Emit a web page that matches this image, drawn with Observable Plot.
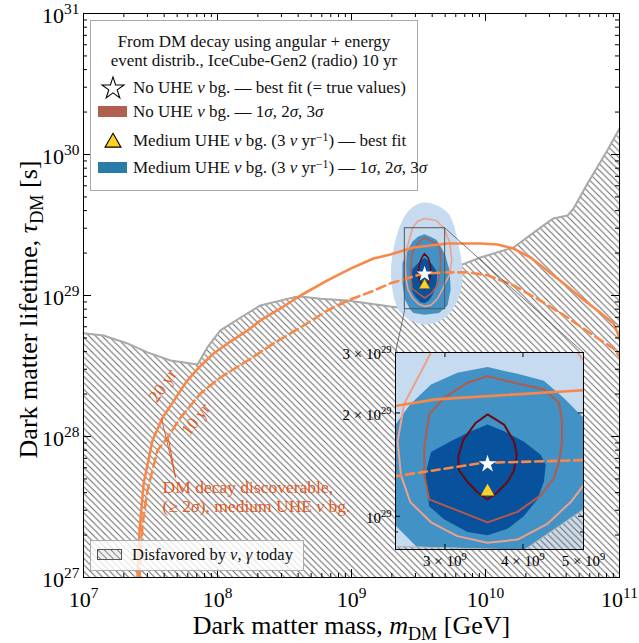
<!DOCTYPE html>
<html><head><meta charset="utf-8">
<script src="https://cdn.jsdelivr.net/npm/d3@7"></script>
<script src="https://cdn.jsdelivr.net/npm/@observablehq/plot@0.6"></script>
<style>
body{margin:0;background:#fff;}
#wrap{position:relative;width:639px;height:643px;overflow:hidden;font-family:'Liberation Serif',serif;color:#111;}
.leg{position:absolute;box-sizing:border-box;border:1px solid #ababab;font-family:'Liberation Serif',serif;}
.leg i{font-style:italic;}
.leg sup{font-size:70%;vertical-align:0.45em;line-height:0;}
.row{position:absolute;white-space:nowrap;height:22px;line-height:22px;}
</style></head>
<body><div id="wrap"></div>
<script>
// ---------------- data ----------------
// Disfavored-by-nu/gamma boundary
const boundMass = [1.0e7,1.41e7,2.13e7,3.0e7,4.46e7,7.1e7,8.4e7,1.05e8,1.49e8,2.09e8,3.69e8,4.16e8,5.87e8,9.3e8,1.95e9,2.32e9,4.02e9,5.02e9,6.18e9,9.18e9,1.62e10,2.57e10,3.21e10,4.09e10,4.54e10,5.77e10,8.13e10,1.0e11];
const boundLife = [5.4e28,5.2e28,4.57e28,3.95e28,3.46e28,3.24e28,4.28e28,5.65e28,6.98e28,8.5e28,9.7e28,9.85e28,9.5e28,9.2e28,8.35e28,8.2e28,7.96e28,1.05e29,1.61e29,1.86e29,2.19e29,3.03e29,3.52e29,3.69e29,4.14e29,6.22e29,1.07e30,1.53e30];
// Discovery reach, 20 yr (solid) and 10 yr (dashed)
const mass20 = [2.53e7,2.62e7,2.81e7,3.27e7,3.89e7,5.87e7,7.3e7,9.34e7,1.19e8,1.68e8,2.09e8,2.95e8,4.16e8,6.62e8,9.84e8,1.46e9,1.95e9,2.9e9,5.2e9,9.18e9,1.23e10,1.62e10,2.17e10,2.9e10,3.82e10,5.12e10,6.85e10,9.02e10,1.0e11];
const life20 = [1.0e27,2.15e27,4.64e27,9.37e27,1.36e28,2.45e28,3.1e28,3.88e28,4.57e28,5.65e28,6.65e28,8.09e28,1.0e29,1.28e29,1.55e29,1.83e29,1.95e29,2.19e29,2.34e29,2.34e29,2.3e29,2.15e29,1.86e29,1.5e29,1.22e29,9.7e28,7.83e28,6.33e28,5.04e28];
const mass10 = [2.62e7,2.76e7,3.0e7,3.56e7,4.24e7,5.3e7,7.47e7,1.05e8,1.68e8,2.62e8,4.16e8,6.62e8,9.33e8,1.46e9,1.95e9,3.44e9,5.2e9,7.35e9,1.04e10,1.62e10,2.57e10,4.09e10,6.4e10,9.02e10,1.0e11];
const life10 = [1.0e27,2.42e27,4.14e27,7.96e27,9.84e27,1.36e28,2.02e28,2.62e28,3.46e28,4.57e28,5.93e28,7.83e28,9.2e28,1.08e29,1.22e29,1.43e29,1.46e29,1.46e29,1.39e29,1.18e29,9.2e28,6.98e28,5.2e28,4.21e28,3.7e28];
// Medium UHE bg. contours (filled): 3 sigma, 2 sigma, 1 sigma
const mass3u = [3.44e9,5.2e9,6.3e9,6.74e9,6.08e9,4.86e9,3.44e9,2.32e9,1.99e9,2.06e9,2.57e9];
const life3u = [4.57e29,3.88e29,2.26e29,1.34e29,8.9e28,6.87e28,6.22e28,7.57e28,1.22e29,2.15e29,3.82e29];
const mass2u = [3.51e9,3.92e9,4.32e9,4.65e9,5.01e9,5.4e9,5.5e9,5.2e9,4.5e9,3.5e9,2.9e9,2.73e9,2.5e9,2.4e9,2.4e9,2.5e9,2.64e9,2.85e9,3.14e9];
const life2u = [2.72e29,2.60e29,2.48e29,2.21e29,1.93e29,1.5e29,1.1e29,8.5e28,7.5e28,7.3e28,7.5e28,8.0e28,9.4e28,1.2e29,1.7e29,1.85e29,2.12e29,2.42e29,2.62e29];
const mass1u = [3.51e9,3.73e9,4.01e9,4.27e9,4.35e9,4.32e9,4.22e9,4.01e9,3.78e9,3.51e9,3.26e9,2.99e9,2.83e9,2.79e9,2.85e9,3.06e9,3.30e9];
const life1u = [1.85e29,1.77e29,1.65e29,1.51e29,1.41e29,1.26e29,1.12e29,1.00e29,9.2e28,8.8e28,9.0e28,9.8e28,1.07e29,1.32e29,1.54e29,1.65e29,1.77e29];
// No UHE bg. contours (lines): 3 sigma, 2 sigma, 1 sigma
const mass3n = [3.5e9,4.3e9,4.89e9,5.0e9,5.4e9,5.6e9,5.4e9,5.0e9,4.77e9,4.37e9,3.92e9,3.51e9,3.14e9,2.85e9,2.64e9,2.55e9,2.52e9,2.58e9,2.85e9,3.1e9];
const life3n = [3.52e29,3.4e29,3.0e29,2.84e29,2.4e29,1.8e29,1.4e29,1.23e29,1.10e29,9.48e28,8.55e28,8.37e28,8.75e28,9.6e28,1.10e29,1.32e29,1.65e29,2.12e29,3.0e29,3.35e29];
const mass2n = [3.51e9,3.87e9,4.32e9,4.57e9,4.62e9,4.62e9,4.57e9,4.48e9,4.27e9,3.92e9,3.51e9,3.14e9,2.83e9,2.78e9,2.78e9,2.83e9,2.99e9,3.26e9];
const life2n = [2.56e29,2.45e29,2.34e29,2.14e29,1.89e29,1.65e29,1.44e29,1.29e29,1.15e29,1.03e29,9.6e28,1.04e29,1.12e29,1.32e29,1.58e29,1.98e29,2.21e29,2.45e29];
const mass1n = [3.51e9,3.73e9,3.87e9,3.91e9,3.87e9,3.78e9,3.64e9,3.51e9,3.38e9,3.26e9,3.16e9,3.15e9,3.21e9,3.36e9];
const life1n = [1.98e29,1.85e29,1.65e29,1.51e29,1.36e29,1.26e29,1.175e29,1.12e29,1.175e29,1.26e29,1.36e29,1.49e29,1.67e29,1.87e29];
// best fits
const bestNoMass = [3.51e9], bestNoLife = [1.42e29];
const bestMedMass = [3.51e9], bestMedLife = [1.18e29];
// zoomed window
const insetMass = [2.5e9, 5e9];
const insetLife = [8e28, 3e29];
// annotations
const annoText = ["20 yr", "10 yr"];
const annoMass = [3.9e7, 6.9e7];
const annoLife = [2.3e28, 1.32e28];
const annoAngle = [-55, -52];
const discoverText = "DM decay discoverable,\n(≥ 2*σ*), medium UHE *ν* bg.";
const discoverMass = 3.89e7, discoverLife = 3.75e27;
const pointerFromMass = 4.86e7, pointerFromLife = 5.12e27;
const pointerToMass = [3.82e7, 4.3e7];
const pointerToLife = [1.34e28, 9.68e27];
// ticks
const xMajor = [1e7,1e8,1e9,1e10,1e11];
const yMajor = [1e27,1e28,1e29,1e30,1e31];
const insetXTicks = [3e9,4e9,5e9];
const insetXLabels = ["3 × 10^{9}","4 × 10^{9}","5 × 10^{9}"];
const insetYTicks = [1e29,2e29,3e29];
const insetYLabels = ["10^{29}","2 × 10^{29}","3 × 10^{29}"];
const insetYMinor = [9e28];
// legend
const legendTitle = ["From DM decay using angular + energy","event distrib., IceCube-Gen2 (radio) 10 yr"];
const legendLabels = [
  "No UHE <i>ν</i> bg. — best fit (= true values)",
  "No UHE <i>ν</i> bg. — 1<i>σ</i>, 2<i>σ</i>, 3<i>σ</i>",
  "Medium UHE <i>ν</i> bg. (3 <i>ν</i> yr<sup>−1</sup>) — best fit",
  "Medium UHE <i>ν</i> bg. (3 <i>ν</i> yr<sup>−1</sup>) — 1<i>σ</i>, 2<i>σ</i>, 3<i>σ</i>"
];
const legendHatchLabel = "Disfavored by <i>ν</i>, <i>γ</i> today";
const xTitle = "Dark matter mass, *m*_{DM} [GeV]";
const yTitle = "Dark matter lifetime, *τ*_{DM} [s]";

// ---------------- styles / layout ----------------
const SERIF = "'Liberation Serif', serif";
const ORANGE = "#f98848", ANNO = "#e5581c";
const W = 639, H = 643, ML = 83, MR = 20, MT = 13, MB = 66;
const PW = W - ML - MR, PH = H - MT - MB;
const xDomain = [1e7, 1e11], yDomain = [1e27, 1e31];
const IL = 395, IT = 352, IW = 188, IH = 197;       // inset frame in page pixels
const iML = 66, iMR = 8, iMT = 4, iMB = 26;

const NS = "http://www.w3.org/2000/svg";
const pts = (xs, ys) => xs.map((x, i) => ({x, y: ys[i]}));
const boundary = pts(boundMass, boundLife);
const line20 = pts(mass20, life20), line10 = pts(mass10, life10);
const c3u = pts(mass3u, life3u), c2u = pts(mass2u, life2u), c1u = pts(mass1u, life1u);
const c3n = pts(mass3n, life3n), c2n = pts(mass2n, life2n), c1n = pts(mass1n, life1n);
const bestNo = pts(bestNoMass, bestNoLife), bestMed = pts(bestMedMass, bestMedLife);
const minorOf = (lo, hi) => { const a = []; for (let d = lo; d < hi; d++) for (let k = 2; k <= 9; k++) a.push(k * 10 ** d); return a; };
const xMinor = minorOf(7, 11), yMinor = minorOf(27, 31);
const exp10 = d => `10^{${Math.round(Math.log10(d))}}`;
// page pixel -> main data (for the inset connector lines)
const pxToMass = px => 10 ** (Math.log10(xDomain[0]) + (px - ML) / PW * Math.log10(xDomain[1] / xDomain[0]));
const pyToLife = py => 10 ** (Math.log10(yDomain[1]) - (py - MT) / PH * Math.log10(yDomain[1] / yDomain[0]));
const box = [{x1: insetMass[0], x2: insetMass[1], y1: insetLife[0], y2: insetLife[1]}];
const connectors = [
  {x1: insetMass[0], y1: insetLife[0], x2: pxToMass(IL), y2: pyToLife(IT)},
  {x1: insetMass[1], y1: insetLife[1], x2: pxToMass(IL + IW), y2: pyToLife(IT)}
];
const pointers = pointerToMass.map((m, i) => ({x1: pointerFromMass, y1: pointerFromLife, x2: m, y2: pointerToLife[i]}));
const annos = annoText.map((t, i) => ({t, x: annoMass[i], y: annoLife[i], a: annoAngle[i]}));

function contourMarks(clip, sw) {
  return [
    Plot.line(c3u, {x: "x", y: "y", curve: "catmull-rom-closed", fill: "#c6dbef", stroke: "none", clip}),
    Plot.line(c2u, {x: "x", y: "y", curve: "linear-closed", fill: "#4292c6", stroke: "none", clip}),
    Plot.line(c1u, {x: "x", y: "y", curve: "linear-closed", fill: "#08519c", stroke: "none", clip}),
    Plot.line(c3n, {x: "x", y: "y", curve: "linear-closed", stroke: "#eea18a", strokeWidth: sw, clip}),
    Plot.line(c2n, {x: "x", y: "y", curve: "linear-closed", stroke: "#b45a49", strokeWidth: sw, clip}),
    Plot.line(c1n, {x: "x", y: "y", curve: "linear-closed", stroke: "#6a0b12", strokeWidth: sw, clip})
  ];
}

const main = Plot.plot({
  width: W, height: H, marginLeft: ML, marginRight: MR, marginTop: MT, marginBottom: MB,
  x: {type: "log", domain: xDomain, axis: null},
  y: {type: "log", domain: yDomain, axis: null},
  style: {fontFamily: SERIF, background: "white", color: "black"},
  marks: [
    Plot.areaY(boundary, {x: "x", y1: () => yDomain[0], y2: "y", fill: "url(#hatch)"}),
    Plot.line(boundary, {x: "x", y: "y", stroke: "#a9a9a9", strokeWidth: 2}),
    ...contourMarks(false, 1.6),
    Plot.line(line20, {x: "x", y: "y", stroke: ORANGE, strokeWidth: 2.6, clip: true}),
    Plot.line(line10, {x: "x", y: "y", stroke: ORANGE, strokeWidth: 2.6, strokeDasharray: "9,5", clip: true}),
    Plot.dot(bestNo, {x: "x", y: "y", symbol: "star", fill: "white", r: 5}),
    Plot.dot(bestMed, {x: "x", y: "y", symbol: "triangle", fill: "#ffd21f", stroke: "#444", strokeWidth: 0.5, r: 4.2}),
    Plot.rect(box, {x1: "x1", x2: "x2", y1: "y1", y2: "y2", fill: "none", stroke: "#555", strokeWidth: 1}),
    Plot.link(connectors, {x1: "x1", y1: "y1", x2: "x2", y2: "y2", stroke: "#555", strokeWidth: 0.8}),
    Plot.text(annos, {x: "x", y: "y", text: "t", rotate: "a", fill: ANNO, fontSize: 17}),
    Plot.link(pointers, {x1: "x1", y1: "y1", x2: "x2", y2: "y2", stroke: ANNO, strokeWidth: 1}),
    Plot.text([discoverText], {x: () => discoverMass, y: () => discoverLife, textAnchor: "start", lineAnchor: "middle", fill: ANNO, fontSize: 17.5, lineHeight: 1.05}),
    // inward ticks on all four sides
    Plot.tickX(xMajor, {x: d => d, insetTop: PH - 8}),
    Plot.tickX(xMajor, {x: d => d, insetBottom: PH - 8}),
    Plot.tickX(xMinor, {x: d => d, insetTop: PH - 4}),
    Plot.tickX(xMinor, {x: d => d, insetBottom: PH - 4}),
    Plot.tickY(yMajor, {y: d => d, insetRight: PW - 8}),
    Plot.tickY(yMajor, {y: d => d, insetLeft: PW - 8}),
    Plot.tickY(yMinor, {y: d => d, insetRight: PW - 4}),
    Plot.tickY(yMinor, {y: d => d, insetLeft: PW - 4}),
    Plot.text(xMajor, {x: d => d, text: exp10, frameAnchor: "bottom", textAnchor: "middle", lineAnchor: "middle", dy: 22, fontSize: 22}),
    Plot.text(yMajor, {y: d => d, text: exp10, frameAnchor: "left", textAnchor: "end", lineAnchor: "middle", dx: -4, dy: 2, fontSize: 22}),
    Plot.text([xTitle], {frameAnchor: "bottom", textAnchor: "middle", lineAnchor: "middle", dy: 48, fontSize: 26}),
    Plot.text([yTitle], {frameAnchor: "left", textAnchor: "middle", lineAnchor: "middle", rotate: -90, dx: -55, dy: 14, fontSize: 26}),
    Plot.frame({stroke: "black", strokeWidth: 1})
  ]
});

const iPW = IW, iPH = IH;
const inset = Plot.plot({
  width: IW + iML + iMR, height: IH + iMT + iMB,
  marginLeft: iML, marginRight: iMR, marginTop: iMT, marginBottom: iMB,
  x: {type: "log", domain: insetMass, axis: null},
  y: {type: "log", domain: insetLife, axis: null},
  style: {fontFamily: SERIF, background: "transparent", color: "black", overflow: "visible"},
  marks: [
    Plot.frame({fill: "white", stroke: "none"}),
    ...contourMarks(true, 2),
    Plot.areaY(boundary, {x: "x", y1: () => yDomain[0], y2: "y", fill: "#cddcea", clip: true}),
    Plot.areaY(boundary, {x: "x", y1: () => yDomain[0], y2: "y", fill: "url(#hatch)", clip: true}),
    Plot.line(boundary, {x: "x", y: "y", stroke: "#b5b5b5", strokeWidth: 1, clip: true}),
    Plot.line(line20, {x: "x", y: "y", stroke: ORANGE, strokeWidth: 2.6, clip: true}),
    Plot.line(line10, {x: "x", y: "y", stroke: ORANGE, strokeWidth: 2.6, strokeDasharray: "8,5", clip: true}),
    Plot.dot(bestNo, {x: "x", y: "y", symbol: "star", fill: "white", r: 5.5}),
    Plot.dot(bestMed, {x: "x", y: "y", symbol: "triangle", fill: "#ffd21f", stroke: "none", r: 5}),
    Plot.tickX(insetXTicks, {x: d => d, insetTop: iPH - 5}),
    Plot.tickX(insetXTicks, {x: d => d, insetBottom: iPH - 5}),
    Plot.tickY(insetYTicks, {y: d => d, insetRight: iPW - 5}),
    Plot.tickY(insetYTicks, {y: d => d, insetLeft: iPW - 5}),
    Plot.tickY(insetYMinor, {y: d => d, insetRight: iPW - 3}),
    Plot.tickY(insetYMinor, {y: d => d, insetLeft: iPW - 3}),
    Plot.text(insetXTicks, {x: d => d, text: (d, i) => insetXLabels[i], frameAnchor: "bottom", textAnchor: "middle", lineAnchor: "middle", dy: 12, fontSize: 15}),
    Plot.text(insetYTicks, {y: d => d, text: (d, i) => insetYLabels[i], frameAnchor: "left", textAnchor: "end", lineAnchor: "middle", dx: -4, dy: 2, fontSize: 15}),
    Plot.frame({stroke: "black", strokeWidth: 1})
  ]
});

// hatch pattern definition
const defs = document.createElementNS(NS, "defs");
defs.innerHTML = '<pattern id="hatch" patternUnits="userSpaceOnUse" width="6.5" height="6.5">' +
  '<path d="M0,0L6.5,6.5M-1,5.5L1,7.5M5.5,-1L7.5,1" stroke="#666" stroke-width="1" fill="none"/></pattern>';
main.insertBefore(defs, main.firstChild);

const wrap = document.getElementById("wrap");
main.style.position = "absolute"; main.style.left = "0px"; main.style.top = "0px";
wrap.appendChild(main);
inset.style.position = "absolute";
inset.style.left = (IL - iML) + "px"; inset.style.top = (IT - iMT) + "px";
inset.style.maxWidth = "none";
wrap.appendChild(inset);

// rich text: *italic*, ^{super}, _{sub}
function richify(root) {
  root.querySelectorAll("text").forEach(t => {
    const nodes = t.querySelector("tspan") ? Array.from(t.children) : [t];
    nodes.forEach(node => {
      const s = node.textContent;
      if (!/\^\{|_\{|\*/.test(s)) return;
      const fs = parseFloat(getComputedStyle(node).fontSize) || 16;
      node.textContent = "";
      let shift = 0;
      for (const p of s.split(/(\^\{[^}]*\}|_\{[^}]*\}|\*[^*]+\*)/)) {
        if (!p) continue;
        const ts = document.createElementNS(NS, "tspan");
        let target = 0, txt = p;
        if (p.startsWith("^{")) { target = -0.4 * fs; txt = p.slice(2, -1); ts.setAttribute("font-size", 0.7 * fs); }
        else if (p.startsWith("_{")) { target = 0.22 * fs; txt = p.slice(2, -1); ts.setAttribute("font-size", 0.7 * fs); }
        else if (p.length > 2 && p[0] === "*" && p[p.length - 1] === "*") { txt = p.slice(1, -1); ts.setAttribute("font-style", "italic"); }
        if (target !== shift) { ts.setAttribute("dy", target - shift); shift = target; }
        ts.textContent = txt;
        node.appendChild(ts);
      }
    });
  });
}
richify(main); richify(inset);

// ---------------- legends (overlaid HTML) ----------------
function iconSvg(kind, color) {
  if (kind === "patch") return `<div style="position:absolute;left:7px;top:-6px;width:29px;height:11px;background:${color}"></div>`;
  const sym = kind === "star" ? d3.symbol(d3.symbolStar, 150)() : d3.symbol(d3.symbolTriangle, 110)();
  const fill = kind === "star" ? "white" : "#ffd21f";
  return `<svg width="22" height="22" style="position:absolute;left:11px;top:-11px;overflow:visible"><path transform="translate(11,${kind === "star" ? 11.5 : 12.5})" d="${sym}" fill="${fill}" stroke="black" stroke-width="1.1"/></svg>`;
}
const leg = document.createElement("div");
leg.className = "leg";
Object.assign(leg.style, {left: "90px", top: "20px", width: "328px", height: "171px", background: "white", fontSize: "17px"});
let html = `<div style="position:absolute;left:0;right:0;top:12px;text-align:center;line-height:18.5px;">${legendTitle.join("<br>")}</div>`;
const rowY = [67, 91, 120, 147];
const kinds = ["star", "patch", "tri", "patch"];
const patchColors = [null, "#b0604f", null, "#2b7ba8"];
legendLabels.forEach((lab, i) => {
  html += `<div style="position:absolute;left:0;top:${rowY[i]}px;">${iconSvg(kinds[i], patchColors[i])}</div>`;
  html += `<div class="row" style="left:42px;top:${rowY[i] - 11}px;">${lab}</div>`;
});
leg.innerHTML = html;
wrap.appendChild(leg);

const leg2 = document.createElement("div");
leg2.className = "leg";
Object.assign(leg2.style, {left: "90px", top: "540px", width: "214px", height: "31px", background: "rgba(255,255,255,0.8)", fontSize: "16.5px"});
leg2.innerHTML = `<svg width="26" height="12" style="position:absolute;left:6px;top:8px"><rect x="0.5" y="0.5" width="24" height="10" fill="url(#hatch)" stroke="#555" stroke-width="1"/></svg>` +
  `<div class="row" style="left:41px;top:3px;">${legendHatchLabel}</div>`;
wrap.appendChild(leg2);
</script>
</body></html>
